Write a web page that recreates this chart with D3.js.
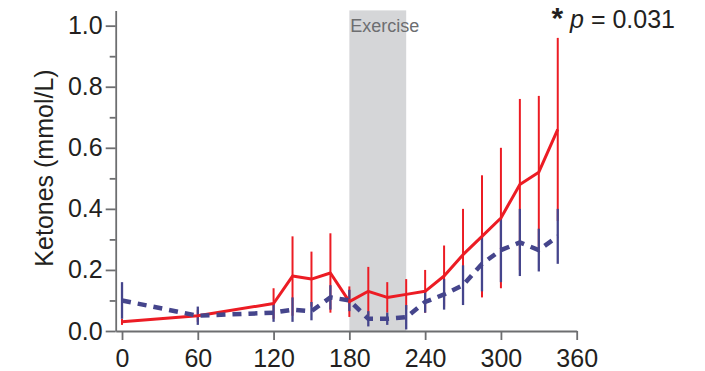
<!DOCTYPE html>
<html>
<head>
<meta charset="utf-8">
<script src="https://cdn.jsdelivr.net/npm/d3@7"></script>
<style>
  body { margin: 0; background: #fff; }
  svg { display: block; font-family: "Liberation Sans", Arial, sans-serif; }
</style>
</head>
<body>
<div class="chart"></div>
<script>
// minutes
const times = [0, 60, 120, 135, 150, 165, 180, 195, 210, 225, 240, 255, 270, 285, 300, 315, 330, 345];
// red series (solid)
const redMean = [0.03, 0.05, 0.09, 0.18, 0.17, 0.19, 0.096, 0.13, 0.11, 0.12, 0.13, 0.18, 0.25, 0.31, 0.37, 0.48, 0.52, 0.66];
const redErr  = [0.01, 0.02, 0.05, 0.13, 0.09, 0.13, 0.05, 0.08, 0.05, 0.05, 0.07, 0.10, 0.15, 0.20, 0.23, 0.28, 0.25, 0.30];
// blue series (dashed)
const blueMean = [0.10, 0.05, 0.06, 0.07, 0.065, 0.11, 0.10, 0.04, 0.04, 0.045, 0.095, 0.12, 0.15, 0.22, 0.265, 0.29, 0.265, 0.31];
const blueErr  = [0.06, 0.03, 0.03, 0.04, 0.03, 0.04, 0.035, 0.025, 0.02, 0.04, 0.035, 0.05, 0.065, 0.09, 0.105, 0.11, 0.07, 0.09];

const xTicks = [0, 60, 120, 180, 240, 300, 360];
const yTicks = [0, 0.2, 0.4, 0.6, 0.8, 1.0];
const yMinor = [0.1, 0.3, 0.5, 0.7, 0.9];
const exercise = [180, 225];

const width = 705, height = 371;
const red = "#ec1c24", blue = "#45458c", axisCol = "#6d6e70", textCol = "#231f20";

const x = d3.scaleLinear().domain([-5, 360]).range([115.7, 576.7]);
const y = d3.scaleLinear().domain([0, 1.05]).range([331, 10.4]);

const svg = d3.select(".chart").append("svg")
  .attr("width", width).attr("height", height);

// exercise band
svg.append("rect")
  .attr("x", x(exercise[0])).attr("y", y(1.05))
  .attr("width", x(exercise[1]) - x(exercise[0]))
  .attr("height", y(0) - y(1.05))
  .attr("fill", "#d5d6d8");

svg.append("text")
  .attr("x", x(exercise[0]) + 1).attr("y", 31.5)
  .attr("font-size", 18).attr("fill", "#6d6e70")
  .text("Exercise");

// axes
const xAxis = svg.append("g")
  .attr("transform", `translate(0,${y(0)})`)
  .call(d3.axisBottom(x).tickValues(xTicks).tickSize(9).tickSizeOuter(0).tickPadding(9));

const yAxis = svg.append("g")
  .attr("transform", `translate(${x(-5)},0)`)
  .call(d3.axisLeft(y).tickValues(yTicks).tickSize(10).tickSizeOuter(0).tickPadding(3)
    .tickFormat(d3.format(".1f")));

svg.append("g")
  .attr("transform", `translate(${x(-5)},0)`)
  .call(d3.axisLeft(y).tickValues(yMinor).tickSize(6).tickSizeOuter(0).tickFormat(""))
  .select(".domain").remove();

svg.selectAll(".domain, .tick line")
  .attr("stroke", axisCol).attr("stroke-width", 1.8);
svg.selectAll(".tick text")
  .attr("fill", textCol).attr("font-size", 25)
  .attr("font-family", "Liberation Sans, Arial, sans-serif");
xAxis.selectAll(".tick text").attr("dy", "0.71em");

// y title
svg.append("text")
  .attr("transform", `translate(53,${168}) rotate(-90)`)
  .attr("text-anchor", "middle")
  .attr("font-size", 25).attr("fill", textCol)
  .text("Ketones (mmol/L)");

// error bars
const data = times.map((t, i) => ({ t, rm: redMean[i], re: redErr[i], bm: blueMean[i], be: blueErr[i] }));

svg.append("g").selectAll("line")
  .data(data).join("line")
  .attr("x1", d => x(d.t)).attr("x2", d => x(d.t))
  .attr("y1", d => y(Math.max(0, d.rm - d.re))).attr("y2", d => y(d.rm + d.re))
  .attr("stroke", red).attr("stroke-width", 2);

svg.append("g").selectAll("line")
  .data(data).join("line")
  .attr("x1", d => x(d.t)).attr("x2", d => x(d.t))
  .attr("y1", d => y(Math.max(0, d.bm - d.be))).attr("y2", d => y(d.bm + d.be))
  .attr("stroke", blue).attr("stroke-width", 2.3);

// lines
svg.append("path")
  .datum(data)
  .attr("fill", "none").attr("stroke", red).attr("stroke-width", 3)
  .attr("stroke-linejoin", "round")
  .attr("d", d3.line().x(d => x(d.t)).y(d => y(d.rm)));

svg.append("path")
  .datum(data)
  .attr("fill", "none").attr("stroke", blue).attr("stroke-width", 4.5)
  .attr("stroke-dasharray", "9,7").attr("stroke-linecap", "butt")
  .attr("d", d3.line().x(d => x(d.t)).y(d => y(d.bm)));

// p value
const p = svg.append("text")
  .attr("x", 675).attr("y", 28)
  .attr("text-anchor", "end")
  .attr("font-size", 25).attr("fill", textCol);
p.append("tspan").attr("font-weight", "bold").attr("font-size", 30).text("*");
p.append("tspan").attr("font-style", "italic").text(" p");
p.append("tspan").text(" = 0.031");
</script>
</body>
</html>
